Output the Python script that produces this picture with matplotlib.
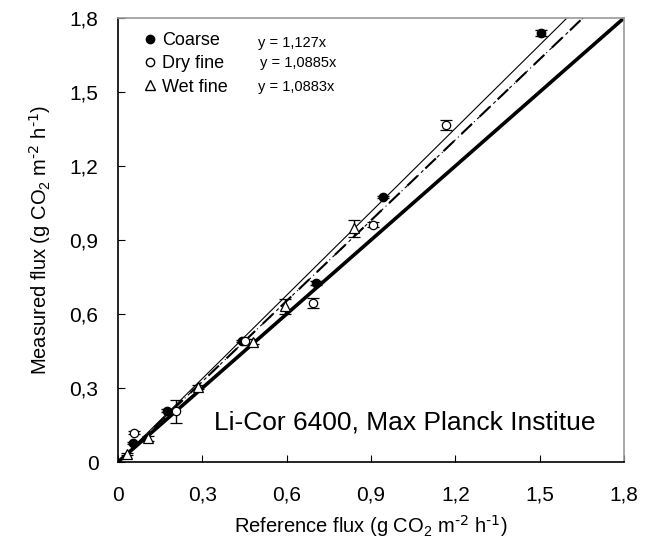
import matplotlib
matplotlib.use("Agg")
import matplotlib.pyplot as plt
from matplotlib.lines import Line2D
import numpy as np

plt.rcParams['font.family'] = ['Liberation Sans', 'DejaVu Sans']
plt.rcParams['mathtext.default'] = 'regular'
plt.rcParams['axes.unicode_minus'] = False

# Data
coarse_x = [0.053, 0.175, 0.44, 0.703, 0.942, 1.504]
coarse_y = [0.077, 0.208, 0.49, 0.724, 1.075, 1.738]
coarse_err = [0.005, 0.005, 0.005, 0.008, 0.005, 0.012]

dry_x = [0.057, 0.206, 0.45, 0.694, 0.906, 1.166]
dry_y = [0.119, 0.205, 0.492, 0.646, 0.961, 1.366]
dry_err = [0.005, 0.046, 0.008, 0.02, 0.01, 0.02]

wet_x = [0.032, 0.107, 0.285, 0.48, 0.594, 0.84]
wet_y = [0.032, 0.097, 0.305, 0.488, 0.632, 0.947]
wet_err = [0.005, 0.01, 0.008, 0.01, 0.03, 0.033]

slope_coarse = 1.127
slope_dry = 1.0885
slope_wet = 1.0883

ticks = [0, 0.3, 0.6, 0.9, 1.2, 1.5, 1.8]
tick_labels = ['0', '0,3', '0,6', '0,9', '1,2', '1,5', '1,8']

fig = plt.figure(figsize=(6.52, 5.49), dpi=100)
ax = fig.add_axes([118/652, 1 - 462/549, (624-118)/652, (462-18)/549])

xx = np.array([0, 1.8])
ax.plot(xx, xx, color='black', lw=2.6, zorder=2)
ax.plot(xx, slope_coarse * xx, color='black', lw=0.8, zorder=2)
ax.plot(xx, slope_dry * xx, color='black', lw=1.5, ls=(0, (7, 5)), zorder=2)
ax.plot(xx, slope_wet * xx, color='black', lw=0.8, ls=(3, (3, 3, 1, 3)), zorder=2)

kw = dict(ecolor='black', elinewidth=1, capsize=4, capthick=1, ls='none', zorder=3)
ax.errorbar(coarse_x, coarse_y, yerr=coarse_err, marker='o', ms=6,
            mfc='black', mec='black', **kw)
ax.errorbar(dry_x, dry_y, yerr=dry_err, marker='o', ms=6,
            mfc='white', mec='black', mew=0.9, **kw)
ax.errorbar(wet_x, wet_y, yerr=wet_err, marker='^', ms=7,
            mfc='white', mec='black', mew=0.9, **kw)

ax.set_xlim(0, 1.8)
ax.set_ylim(0, 1.8)
ax.set_xticks(ticks)
ax.set_xticklabels(tick_labels)
ax.set_yticks(ticks)
ax.set_yticklabels(tick_labels)
ax.tick_params(direction='in', length=5, width=0.8, labelsize=15, color='black')
ax.tick_params(axis='x', pad=17)
ax.tick_params(axis='y', pad=14)
for s in ['top', 'right']:
    ax.spines[s].set_color('#999999')
    ax.spines[s].set_linewidth(1.2)
for s in ['left', 'bottom']:
    ax.spines[s].set_color('black')
    ax.spines[s].set_linewidth(1.2)

unit = 'flux (g CO$_2$ m$^{\\text{-2}}$ h$^{\\text{-1}}$)'
ax.set_xlabel('Reference ' + unit, fontsize=14.5, labelpad=6)
ax.set_ylabel('Measured ' + unit, fontsize=14.5, labelpad=12)

handles = [
    Line2D([], [], ls='none', marker='o', ms=6, mfc='black', mec='black'),
    Line2D([], [], ls='none', marker='o', ms=6, mfc='white', mec='black'),
    Line2D([], [], ls='none', marker='^', ms=6.5, mfc='white', mec='black'),
]
ax.legend(handles, ['Coarse', 'Dry fine', 'Wet fine'], loc='upper left',
          bbox_to_anchor=(0.01, 1.005), frameon=False, fontsize=13,
          handletextpad=0.05, labelspacing=0.35, handlelength=1.2)

ax.text(0.277, 0.944, 'y = 1,127x', transform=ax.transAxes, fontsize=10.5, va='center')
ax.text(0.281, 0.899, 'y = 1,0885x', transform=ax.transAxes, fontsize=10.5, va='center')
ax.text(0.277, 0.845, 'y = 1,0883x', transform=ax.transAxes, fontsize=10.5, va='center')

ax.text(0.567, 0.09, 'Li-Cor 6400, Max Planck Institue', transform=ax.transAxes,
        fontsize=19, ha='center', va='center',
        bbox=dict(facecolor='white', edgecolor='none', pad=1))

fig.savefig('out.png', dpi=100)
